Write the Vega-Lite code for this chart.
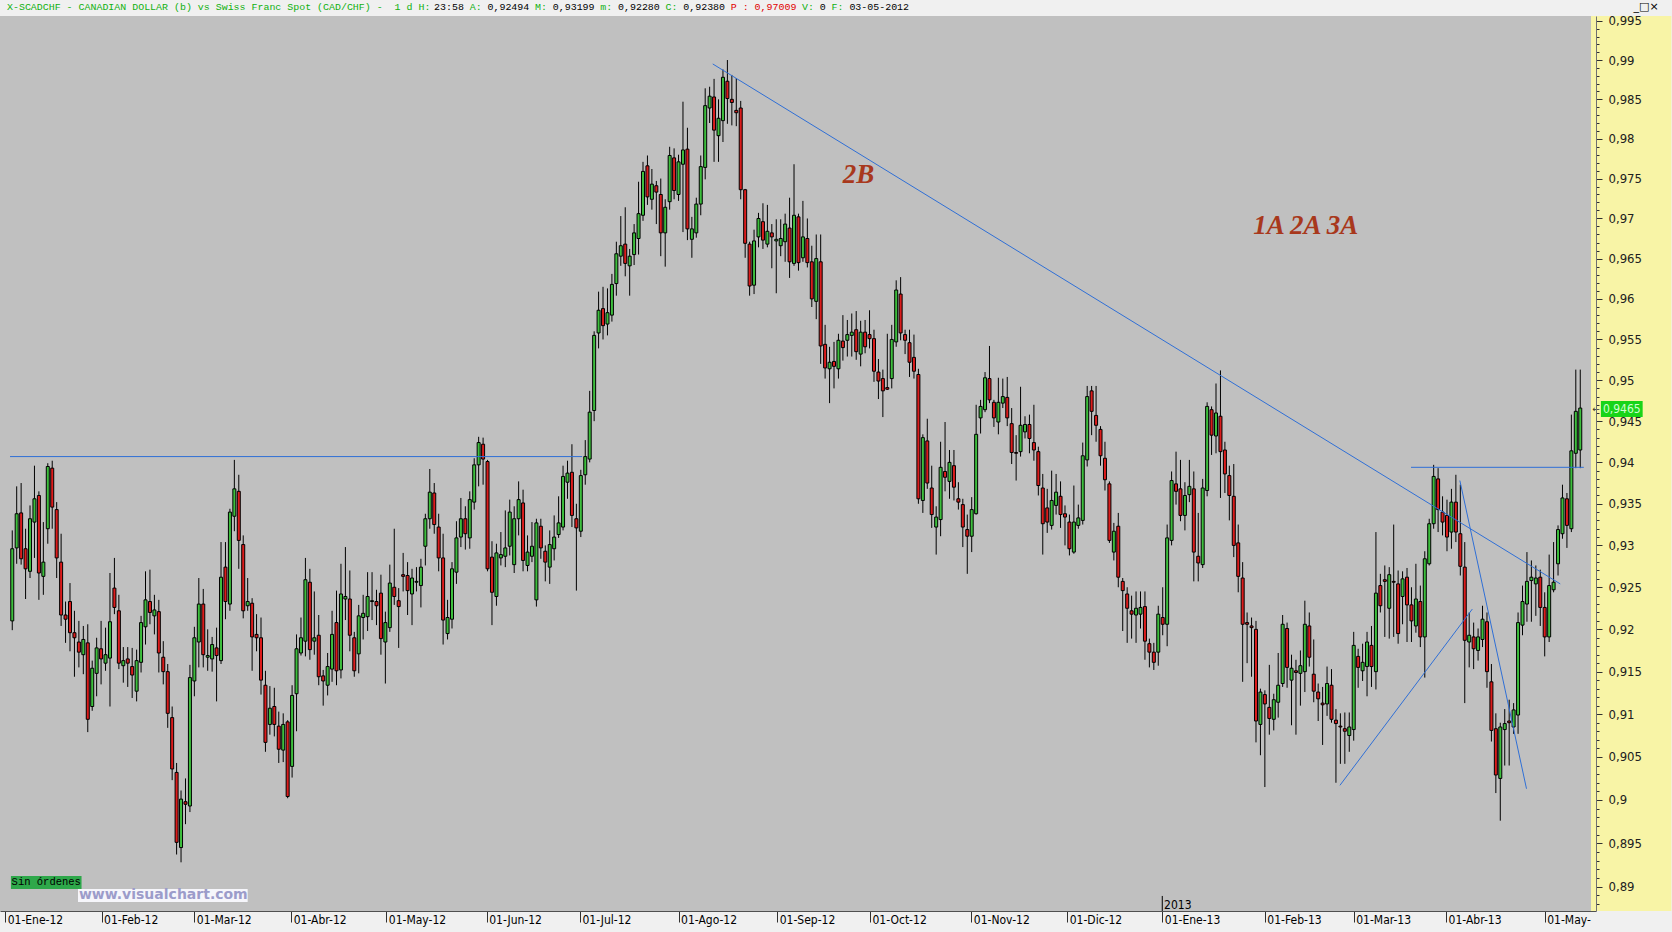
{
"$schema": "https://vega.github.io/schema/vega-lite/v6.json",
"width": 1596, "height": 895, "autosize": "none",
"padding": {"left": 0, "top": 16, "right": 76, "bottom": 21},
"background": "#f0f0f0",
"config": {"view": {"fill": "#c0c0c0", "stroke": null}, "axis": {"grid": false}},
"datasets": {
"ohlc": [
{"i":0,"o":0.9210,"h":0.9318,"l":0.9199,"c":0.9296},
{"i":1,"o":0.9297,"h":0.9371,"l":0.9278,"c":0.9338},
{"i":2,"o":0.9339,"h":0.9375,"l":0.9277,"c":0.9284},
{"i":3,"o":0.9296,"h":0.9320,"l":0.9236,"c":0.9272},
{"i":4,"o":0.9269,"h":0.9348,"l":0.9261,"c":0.9332},
{"i":5,"o":0.9328,"h":0.9396,"l":0.9285,"c":0.9356},
{"i":6,"o":0.9360,"h":0.9365,"l":0.9235,"c":0.9267},
{"i":7,"o":0.9263,"h":0.9328,"l":0.9241,"c":0.9280},
{"i":8,"o":0.9320,"h":0.9399,"l":0.9302,"c":0.9395},
{"i":9,"o":0.9393,"h":0.9402,"l":0.9320,"c":0.9346},
{"i":10,"o":0.9343,"h":0.9352,"l":0.9261,"c":0.9285},
{"i":11,"o":0.9280,"h":0.9314,"l":0.9204,"c":0.9217},
{"i":12,"o":0.9217,"h":0.9233,"l":0.9184,"c":0.9212},
{"i":13,"o":0.9233,"h":0.9255,"l":0.9174,"c":0.9196},
{"i":14,"o":0.9196,"h":0.9222,"l":0.9144,"c":0.9190},
{"i":15,"o":0.9185,"h":0.9210,"l":0.9155,"c":0.9173},
{"i":16,"o":0.9170,"h":0.9204,"l":0.9147,"c":0.9188},
{"i":17,"o":0.9184,"h":0.9206,"l":0.9079,"c":0.9094},
{"i":18,"o":0.9109,"h":0.9163,"l":0.9104,"c":0.9154},
{"i":19,"o":0.9148,"h":0.9190,"l":0.9121,"c":0.9178},
{"i":20,"o":0.9177,"h":0.9210,"l":0.9135,"c":0.9165},
{"i":21,"o":0.9160,"h":0.9202,"l":0.9151,"c":0.9170},
{"i":22,"o":0.9166,"h":0.9267,"l":0.9109,"c":0.9209},
{"i":23,"o":0.9249,"h":0.9285,"l":0.9218,"c":0.9226},
{"i":24,"o":0.9222,"h":0.9241,"l":0.9153,"c":0.9160},
{"i":25,"o":0.9157,"h":0.9179,"l":0.9137,"c":0.9163},
{"i":26,"o":0.9165,"h":0.9179,"l":0.9132,"c":0.9160},
{"i":27,"o":0.9156,"h":0.9178,"l":0.9119,"c":0.9146},
{"i":28,"o":0.9127,"h":0.9176,"l":0.9115,"c":0.9163},
{"i":29,"o":0.9161,"h":0.9216,"l":0.9149,"c":0.9208},
{"i":30,"o":0.9203,"h":0.9269,"l":0.9182,"c":0.9235},
{"i":31,"o":0.9233,"h":0.9271,"l":0.9206,"c":0.9220},
{"i":32,"o":0.9216,"h":0.9241,"l":0.9194,"c":0.9223},
{"i":33,"o":0.9221,"h":0.9235,"l":0.9149,"c":0.9172},
{"i":34,"o":0.9167,"h":0.9186,"l":0.9135,"c":0.9150},
{"i":35,"o":0.9150,"h":0.9159,"l":0.9084,"c":0.9101},
{"i":36,"o":0.9096,"h":0.9109,"l":0.9023,"c":0.9036},
{"i":37,"o":0.9032,"h":0.9043,"l":0.8937,"c":0.8951},
{"i":38,"o":0.8945,"h":0.9011,"l":0.8928,"c":0.9001},
{"i":39,"o":0.8998,"h":0.9025,"l":0.8972,"c":0.8995},
{"i":40,"o":0.8993,"h":0.9158,"l":0.8986,"c":0.9143},
{"i":41,"o":0.9139,"h":0.9203,"l":0.9121,"c":0.9190},
{"i":42,"o":0.9185,"h":0.9261,"l":0.9155,"c":0.9230},
{"i":43,"o":0.9230,"h":0.9248,"l":0.9155,"c":0.9170},
{"i":44,"o":0.9167,"h":0.9200,"l":0.9151,"c":0.9169},
{"i":45,"o":0.9165,"h":0.9191,"l":0.9150,"c":0.9182},
{"i":46,"o":0.9178,"h":0.9202,"l":0.9115,"c":0.9169},
{"i":47,"o":0.9163,"h":0.9304,"l":0.9159,"c":0.9262},
{"i":48,"o":0.9274,"h":0.9304,"l":0.9212,"c":0.9233},
{"i":49,"o":0.9230,"h":0.9344,"l":0.9222,"c":0.9340},
{"i":50,"o":0.9335,"h":0.9403,"l":0.9317,"c":0.9368},
{"i":51,"o":0.9365,"h":0.9385,"l":0.9272,"c":0.9306},
{"i":52,"o":0.9301,"h":0.9312,"l":0.9213,"c":0.9222},
{"i":53,"o":0.9228,"h":0.9261,"l":0.9222,"c":0.9233},
{"i":54,"o":0.9231,"h":0.9237,"l":0.9151,"c":0.9191},
{"i":55,"o":0.9194,"h":0.9218,"l":0.9174,"c":0.9190},
{"i":56,"o":0.9190,"h":0.9214,"l":0.9123,"c":0.9140},
{"i":57,"o":0.9134,"h":0.9151,"l":0.9056,"c":0.9067},
{"i":58,"o":0.9088,"h":0.9133,"l":0.9076,"c":0.9107},
{"i":59,"o":0.9109,"h":0.9131,"l":0.9074,"c":0.9088},
{"i":60,"o":0.9086,"h":0.9103,"l":0.9043,"c":0.9059},
{"i":61,"o":0.9058,"h":0.9101,"l":0.9044,"c":0.9088},
{"i":62,"o":0.9091,"h":0.9093,"l":0.9002,"c":0.9004},
{"i":63,"o":0.9039,"h":0.9134,"l":0.9026,"c":0.9122},
{"i":64,"o":0.9124,"h":0.9194,"l":0.9080,"c":0.9177},
{"i":65,"o":0.9172,"h":0.9214,"l":0.9169,"c":0.9190},
{"i":66,"o":0.9186,"h":0.9285,"l":0.9168,"c":0.9259},
{"i":67,"o":0.9256,"h":0.9272,"l":0.9164,"c":0.9176},
{"i":68,"o":0.9186,"h":0.9245,"l":0.9170,"c":0.9190},
{"i":69,"o":0.9193,"h":0.9217,"l":0.9134,"c":0.9144},
{"i":70,"o":0.9145,"h":0.9152,"l":0.9110,"c":0.9139},
{"i":71,"o":0.9134,"h":0.9172,"l":0.9122,"c":0.9156},
{"i":72,"o":0.9153,"h":0.9222,"l":0.9138,"c":0.9194},
{"i":73,"o":0.9208,"h":0.9246,"l":0.9134,"c":0.9151},
{"i":74,"o":0.9152,"h":0.9278,"l":0.9142,"c":0.9242},
{"i":75,"o":0.9236,"h":0.9298,"l":0.9211,"c":0.9239},
{"i":76,"o":0.9236,"h":0.9270,"l":0.9174,"c":0.9193},
{"i":77,"o":0.9190,"h":0.9197,"l":0.9144,"c":0.9151},
{"i":78,"o":0.9171,"h":0.9229,"l":0.9148,"c":0.9216},
{"i":79,"o":0.9214,"h":0.9241,"l":0.9188,"c":0.9219},
{"i":80,"o":0.9215,"h":0.9268,"l":0.9198,"c":0.9239},
{"i":81,"o":0.9233,"h":0.9268,"l":0.9211,"c":0.9234},
{"i":82,"o":0.9233,"h":0.9247,"l":0.9205,"c":0.9228},
{"i":83,"o":0.9243,"h":0.9265,"l":0.9170,"c":0.9189},
{"i":84,"o":0.9185,"h":0.9221,"l":0.9136,"c":0.9208},
{"i":85,"o":0.9202,"h":0.9277,"l":0.9197,"c":0.9255},
{"i":86,"o":0.9250,"h":0.9320,"l":0.9229,"c":0.9239},
{"i":87,"o":0.9234,"h":0.9249,"l":0.9178,"c":0.9227},
{"i":88,"o":0.9265,"h":0.9291,"l":0.9245,"c":0.9263},
{"i":89,"o":0.9264,"h":0.9280,"l":0.9217,"c":0.9246},
{"i":90,"o":0.9242,"h":0.9272,"l":0.9205,"c":0.9261},
{"i":91,"o":0.9256,"h":0.9274,"l":0.9245,"c":0.9257},
{"i":92,"o":0.9252,"h":0.9284,"l":0.9226,"c":0.9274},
{"i":93,"o":0.9299,"h":0.9338,"l":0.9276,"c":0.9332},
{"i":94,"o":0.9332,"h":0.9392,"l":0.9320,"c":0.9364},
{"i":95,"o":0.9363,"h":0.9375,"l":0.9314,"c":0.9325},
{"i":96,"o":0.9322,"h":0.9338,"l":0.9269,"c":0.9285},
{"i":97,"o":0.9285,"h":0.9314,"l":0.9182,"c":0.9211},
{"i":98,"o":0.9195,"h":0.9235,"l":0.9188,"c":0.9214},
{"i":99,"o":0.9212,"h":0.9280,"l":0.9201,"c":0.9272},
{"i":100,"o":0.9268,"h":0.9329,"l":0.9254,"c":0.9309},
{"i":101,"o":0.9310,"h":0.9357,"l":0.9298,"c":0.9332},
{"i":102,"o":0.9332,"h":0.9347,"l":0.9295,"c":0.9314},
{"i":103,"o":0.9309,"h":0.9365,"l":0.9296,"c":0.9355},
{"i":104,"o":0.9352,"h":0.9405,"l":0.9343,"c":0.9397},
{"i":105,"o":0.9397,"h":0.9431,"l":0.9371,"c":0.9424},
{"i":106,"o":0.9422,"h":0.9430,"l":0.9373,"c":0.9404},
{"i":107,"o":0.9401,"h":0.9403,"l":0.9269,"c":0.9272},
{"i":108,"o":0.9286,"h":0.9305,"l":0.9205,"c":0.9244},
{"i":109,"o":0.9239,"h":0.9302,"l":0.9228,"c":0.9291},
{"i":110,"o":0.9285,"h":0.9316,"l":0.9276,"c":0.9289},
{"i":111,"o":0.9287,"h":0.9342,"l":0.9274,"c":0.9297},
{"i":112,"o":0.9299,"h":0.9355,"l":0.9288,"c":0.9340},
{"i":113,"o":0.9277,"h":0.9347,"l":0.9267,"c":0.9332},
{"i":114,"o":0.9332,"h":0.9377,"l":0.9312,"c":0.9355},
{"i":115,"o":0.9351,"h":0.9367,"l":0.9269,"c":0.9282},
{"i":116,"o":0.9276,"h":0.9312,"l":0.9269,"c":0.9292},
{"i":117,"o":0.9287,"h":0.9328,"l":0.9280,"c":0.9299},
{"i":118,"o":0.9235,"h":0.9332,"l":0.9227,"c":0.9327},
{"i":119,"o":0.9323,"h":0.9332,"l":0.9284,"c":0.9297},
{"i":120,"o":0.9293,"h":0.9300,"l":0.9257,"c":0.9280},
{"i":121,"o":0.9274,"h":0.9318,"l":0.9254,"c":0.9301},
{"i":122,"o":0.9296,"h":0.9336,"l":0.9282,"c":0.9310},
{"i":123,"o":0.9313,"h":0.9359,"l":0.9309,"c":0.9327},
{"i":124,"o":0.9322,"h":0.9396,"l":0.9318,"c":0.9383},
{"i":125,"o":0.9376,"h":0.9402,"l":0.9356,"c":0.9387},
{"i":126,"o":0.9388,"h":0.9422,"l":0.9322,"c":0.9336},
{"i":127,"o":0.9332,"h":0.9350,"l":0.9246,"c":0.9321},
{"i":128,"o":0.9317,"h":0.9391,"l":0.9310,"c":0.9384},
{"i":129,"o":0.9385,"h":0.9427,"l":0.9373,"c":0.9407},
{"i":130,"o":0.9404,"h":0.9487,"l":0.9400,"c":0.9461},
{"i":131,"o":0.9463,"h":0.9560,"l":0.9450,"c":0.9555},
{"i":132,"o":0.9558,"h":0.9609,"l":0.9539,"c":0.9586},
{"i":133,"o":0.9588,"h":0.9615,"l":0.9550,"c":0.9567},
{"i":134,"o":0.9569,"h":0.9613,"l":0.9555,"c":0.9583},
{"i":135,"o":0.9580,"h":0.9631,"l":0.9572,"c":0.9618},
{"i":136,"o":0.9619,"h":0.9671,"l":0.9604,"c":0.9656},
{"i":137,"o":0.9653,"h":0.9703,"l":0.9641,"c":0.9666},
{"i":138,"o":0.9668,"h":0.9714,"l":0.9628,"c":0.9644},
{"i":139,"o":0.9641,"h":0.9662,"l":0.9604,"c":0.9653},
{"i":140,"o":0.9655,"h":0.9693,"l":0.9642,"c":0.9682},
{"i":141,"o":0.9675,"h":0.9746,"l":0.9655,"c":0.9706},
{"i":142,"o":0.9704,"h":0.9771,"l":0.9697,"c":0.9759},
{"i":143,"o":0.9766,"h":0.9779,"l":0.9717,"c":0.9727},
{"i":144,"o":0.9724,"h":0.9762,"l":0.9711,"c":0.9743},
{"i":145,"o":0.9741,"h":0.9747,"l":0.9693,"c":0.9733},
{"i":146,"o":0.9730,"h":0.9750,"l":0.9653,"c":0.9682},
{"i":147,"o":0.9682,"h":0.9724,"l":0.9640,"c":0.9714},
{"i":148,"o":0.9721,"h":0.9790,"l":0.9711,"c":0.9779},
{"i":149,"o":0.9776,"h":0.9788,"l":0.9724,"c":0.9735},
{"i":150,"o":0.9730,"h":0.9780,"l":0.9722,"c":0.9771},
{"i":151,"o":0.9768,"h":0.9847,"l":0.9683,"c":0.9786},
{"i":152,"o":0.9787,"h":0.9814,"l":0.9673,"c":0.9687},
{"i":153,"o":0.9674,"h":0.9702,"l":0.9651,"c":0.9687},
{"i":154,"o":0.9682,"h":0.9726,"l":0.9676,"c":0.9718},
{"i":155,"o":0.9718,"h":0.9779,"l":0.9704,"c":0.9765},
{"i":156,"o":0.9764,"h":0.9864,"l":0.9749,"c":0.9842},
{"i":157,"o":0.9839,"h":0.9866,"l":0.9820,"c":0.9854},
{"i":158,"o":0.9853,"h":0.9876,"l":0.9771,"c":0.9811},
{"i":159,"o":0.9804,"h":0.9850,"l":0.9771,"c":0.9826},
{"i":160,"o":0.9823,"h":0.9888,"l":0.9796,"c":0.9878},
{"i":161,"o":0.9873,"h":0.9900,"l":0.9819,"c":0.9851},
{"i":162,"o":0.9850,"h":0.9881,"l":0.9817,"c":0.9846},
{"i":163,"o":0.9836,"h":0.9877,"l":0.9816,"c":0.9833},
{"i":164,"o":0.9839,"h":0.9848,"l":0.9724,"c":0.9736},
{"i":165,"o":0.9736,"h":0.9737,"l":0.9651,"c":0.9669},
{"i":166,"o":0.9668,"h":0.9671,"l":0.9604,"c":0.9616},
{"i":167,"o":0.9617,"h":0.9686,"l":0.9606,"c":0.9672},
{"i":168,"o":0.9677,"h":0.9707,"l":0.9664,"c":0.9700},
{"i":169,"o":0.9696,"h":0.9719,"l":0.9662,"c":0.9673},
{"i":170,"o":0.9668,"h":0.9717,"l":0.9664,"c":0.9684},
{"i":171,"o":0.9682,"h":0.9693,"l":0.9638,"c":0.9677},
{"i":172,"o":0.9672,"h":0.9699,"l":0.9607,"c":0.9674},
{"i":173,"o":0.9666,"h":0.9699,"l":0.9653,"c":0.9675},
{"i":174,"o":0.9671,"h":0.9706,"l":0.9646,"c":0.9693},
{"i":175,"o":0.9688,"h":0.9726,"l":0.9626,"c":0.9646},
{"i":176,"o":0.9644,"h":0.9768,"l":0.9641,"c":0.9704},
{"i":177,"o":0.9702,"h":0.9706,"l":0.9635,"c":0.9645},
{"i":178,"o":0.9651,"h":0.9722,"l":0.9646,"c":0.9677},
{"i":179,"o":0.9675,"h":0.9700,"l":0.9639,"c":0.9645},
{"i":180,"o":0.9646,"h":0.9666,"l":0.9590,"c":0.9600},
{"i":181,"o":0.9597,"h":0.9680,"l":0.9575,"c":0.9650},
{"i":182,"o":0.9646,"h":0.9680,"l":0.9520,"c":0.9542},
{"i":183,"o":0.9544,"h":0.9568,"l":0.9502,"c":0.9515},
{"i":184,"o":0.9514,"h":0.9541,"l":0.9472,"c":0.9522},
{"i":185,"o":0.9523,"h":0.9547,"l":0.9490,"c":0.9517},
{"i":186,"o":0.9514,"h":0.9557,"l":0.9502,"c":0.9549},
{"i":187,"o":0.9548,"h":0.9580,"l":0.9524,"c":0.9540},
{"i":188,"o":0.9549,"h":0.9574,"l":0.9529,"c":0.9556},
{"i":189,"o":0.9555,"h":0.9582,"l":0.9529,"c":0.9559},
{"i":190,"o":0.9562,"h":0.9585,"l":0.9525,"c":0.9535},
{"i":191,"o":0.9532,"h":0.9573,"l":0.9517,"c":0.9559},
{"i":192,"o":0.9559,"h":0.9574,"l":0.9533,"c":0.9541},
{"i":193,"o":0.9556,"h":0.9586,"l":0.9539,"c":0.9551},
{"i":194,"o":0.9551,"h":0.9562,"l":0.9498,"c":0.9511},
{"i":195,"o":0.9510,"h":0.9526,"l":0.9477,"c":0.9499},
{"i":196,"o":0.9502,"h":0.9513,"l":0.9455,"c":0.9487},
{"i":197,"o":0.9491,"h":0.9557,"l":0.9488,"c":0.9489},
{"i":198,"o":0.9502,"h":0.9568,"l":0.9490,"c":0.9550},
{"i":199,"o":0.9547,"h":0.9623,"l":0.9541,"c":0.9611},
{"i":200,"o":0.9606,"h":0.9627,"l":0.9549,"c":0.9558},
{"i":201,"o":0.9556,"h":0.9562,"l":0.9532,"c":0.9549},
{"i":202,"o":0.9546,"h":0.9562,"l":0.9504,"c":0.9522},
{"i":203,"o":0.9528,"h":0.9556,"l":0.9502,"c":0.9511},
{"i":204,"o":0.9507,"h":0.9514,"l":0.9350,"c":0.9356},
{"i":205,"o":0.9354,"h":0.9434,"l":0.9339,"c":0.9430},
{"i":206,"o":0.9426,"h":0.9453,"l":0.9368,"c":0.9375},
{"i":207,"o":0.9369,"h":0.9396,"l":0.9321,"c":0.9337},
{"i":208,"o":0.9322,"h":0.9347,"l":0.9289,"c":0.9334},
{"i":209,"o":0.9331,"h":0.9425,"l":0.9311,"c":0.9394},
{"i":210,"o":0.9389,"h":0.9449,"l":0.9365,"c":0.9382},
{"i":211,"o":0.9377,"h":0.9415,"l":0.9356,"c":0.9400},
{"i":212,"o":0.9396,"h":0.9415,"l":0.9354,"c":0.9370},
{"i":213,"o":0.9356,"h":0.9376,"l":0.9343,"c":0.9352},
{"i":214,"o":0.9349,"h":0.9356,"l":0.9298,"c":0.9322},
{"i":215,"o":0.9319,"h":0.9337,"l":0.9266,"c":0.9311},
{"i":216,"o":0.9311,"h":0.9358,"l":0.9292,"c":0.9343},
{"i":217,"o":0.9338,"h":0.9470,"l":0.9337,"c":0.9434},
{"i":218,"o":0.9454,"h":0.9476,"l":0.9435,"c":0.9468},
{"i":219,"o":0.9464,"h":0.9510,"l":0.9461,"c":0.9503},
{"i":220,"o":0.9502,"h":0.9542,"l":0.9472,"c":0.9476},
{"i":221,"o":0.9473,"h":0.9476,"l":0.9443,"c":0.9454},
{"i":222,"o":0.9449,"h":0.9503,"l":0.9434,"c":0.9473},
{"i":223,"o":0.9472,"h":0.9502,"l":0.9466,"c":0.9480},
{"i":224,"o":0.9479,"h":0.9504,"l":0.9444,"c":0.9454},
{"i":225,"o":0.9447,"h":0.9466,"l":0.9398,"c":0.9412},
{"i":226,"o":0.9412,"h":0.9433,"l":0.9378,"c":0.9411},
{"i":227,"o":0.9413,"h":0.9492,"l":0.9407,"c":0.9445},
{"i":228,"o":0.9437,"h":0.9456,"l":0.9429,"c":0.9446},
{"i":229,"o":0.9446,"h":0.9458,"l":0.9411,"c":0.9429},
{"i":230,"o":0.9424,"h":0.9470,"l":0.9402,"c":0.9415},
{"i":231,"o":0.9413,"h":0.9419,"l":0.9360,"c":0.9372},
{"i":232,"o":0.9369,"h":0.9386,"l":0.9289,"c":0.9326},
{"i":233,"o":0.9345,"h":0.9368,"l":0.9315,"c":0.9328},
{"i":234,"o":0.9324,"h":0.9390,"l":0.9319,"c":0.9354},
{"i":235,"o":0.9348,"h":0.9386,"l":0.9337,"c":0.9364},
{"i":236,"o":0.9359,"h":0.9377,"l":0.9321,"c":0.9337},
{"i":237,"o":0.9338,"h":0.9348,"l":0.9300,"c":0.9334},
{"i":238,"o":0.9328,"h":0.9337,"l":0.9288,"c":0.9296},
{"i":239,"o":0.9292,"h":0.9372,"l":0.9290,"c":0.9328},
{"i":240,"o":0.9324,"h":0.9349,"l":0.9320,"c":0.9333},
{"i":241,"o":0.9330,"h":0.9424,"l":0.9325,"c":0.9408},
{"i":242,"o":0.9403,"h":0.9493,"l":0.9395,"c":0.9480},
{"i":243,"o":0.9487,"h":0.9493,"l":0.9433,"c":0.9462},
{"i":244,"o":0.9457,"h":0.9493,"l":0.9425,"c":0.9445},
{"i":245,"o":0.9440,"h":0.9444,"l":0.9396,"c":0.9408},
{"i":246,"o":0.9405,"h":0.9425,"l":0.9366,"c":0.9379},
{"i":247,"o":0.9374,"h":0.9377,"l":0.9303,"c":0.9306},
{"i":248,"o":0.9292,"h":0.9327,"l":0.9282,"c":0.9317},
{"i":249,"o":0.9323,"h":0.9339,"l":0.9250,"c":0.9262},
{"i":250,"o":0.9257,"h":0.9261,"l":0.9198,"c":0.9246},
{"i":251,"o":0.9242,"h":0.9250,"l":0.9184,"c":0.9225},
{"i":252,"o":0.9222,"h":0.9240,"l":0.9189,"c":0.9218},
{"i":253,"o":0.9217,"h":0.9245,"l":0.9184,"c":0.9225},
{"i":254,"o":0.9218,"h":0.9245,"l":0.9201,"c":0.9226},
{"i":255,"o":0.9227,"h":0.9245,"l":0.9164,"c":0.9186},
{"i":256,"o":0.9183,"h":0.9189,"l":0.9155,"c":0.9173},
{"i":257,"o":0.9173,"h":0.9184,"l":0.9152,"c":0.9161},
{"i":258,"o":0.9173,"h":0.9228,"l":0.9157,"c":0.9218},
{"i":259,"o":0.9214,"h":0.9250,"l":0.9193,"c":0.9206},
{"i":260,"o":0.9206,"h":0.9325,"l":0.9180,"c":0.9309},
{"i":261,"o":0.9306,"h":0.9389,"l":0.9300,"c":0.9378},
{"i":262,"o":0.9374,"h":0.9413,"l":0.9349,"c":0.9365},
{"i":263,"o":0.9368,"h":0.9403,"l":0.9329,"c":0.9336},
{"i":264,"o":0.9336,"h":0.9376,"l":0.9318,"c":0.9360},
{"i":265,"o":0.9361,"h":0.9403,"l":0.9352,"c":0.9371},
{"i":266,"o":0.9368,"h":0.9389,"l":0.9257,"c":0.9292},
{"i":267,"o":0.9287,"h":0.9339,"l":0.9257,"c":0.9279},
{"i":268,"o":0.9277,"h":0.9380,"l":0.9273,"c":0.9369},
{"i":269,"o":0.9366,"h":0.9473,"l":0.9359,"c":0.9468},
{"i":270,"o":0.9464,"h":0.9468,"l":0.9409,"c":0.9433},
{"i":271,"o":0.9432,"h":0.9496,"l":0.9411,"c":0.9460},
{"i":272,"o":0.9456,"h":0.9512,"l":0.9357,"c":0.9413},
{"i":273,"o":0.9415,"h":0.9425,"l":0.9363,"c":0.9386},
{"i":274,"o":0.9384,"h":0.9396,"l":0.9330,"c":0.9360},
{"i":275,"o":0.9359,"h":0.9398,"l":0.9286,"c":0.9300},
{"i":276,"o":0.9303,"h":0.9325,"l":0.9244,"c":0.9263},
{"i":277,"o":0.9261,"h":0.9280,"l":0.9138,"c":0.9206},
{"i":278,"o":0.9208,"h":0.9220,"l":0.9160,"c":0.9206},
{"i":279,"o":0.9204,"h":0.9214,"l":0.9144,"c":0.9202},
{"i":280,"o":0.9200,"h":0.9210,"l":0.9067,"c":0.9092},
{"i":281,"o":0.9088,"h":0.9130,"l":0.9052,"c":0.9126},
{"i":282,"o":0.9123,"h":0.9128,"l":0.9015,"c":0.9112},
{"i":283,"o":0.9108,"h":0.9158,"l":0.9076,"c":0.9095},
{"i":284,"o":0.9094,"h":0.9124,"l":0.9081,"c":0.9117},
{"i":285,"o":0.9114,"h":0.9172,"l":0.9096,"c":0.9134},
{"i":286,"o":0.9136,"h":0.9217,"l":0.9132,"c":0.9206},
{"i":287,"o":0.9201,"h":0.9208,"l":0.9131,"c":0.9155},
{"i":288,"o":0.9140,"h":0.9170,"l":0.9087,"c":0.9154},
{"i":289,"o":0.9151,"h":0.9164,"l":0.9076,"c":0.9149},
{"i":290,"o":0.9148,"h":0.9175,"l":0.9110,"c":0.9157},
{"i":291,"o":0.9150,"h":0.9234,"l":0.9126,"c":0.9206},
{"i":292,"o":0.9204,"h":0.9220,"l":0.9156,"c":0.9167},
{"i":293,"o":0.9147,"h":0.9188,"l":0.9114,"c":0.9127},
{"i":294,"o":0.9126,"h":0.9136,"l":0.9092,"c":0.9118},
{"i":295,"o":0.9113,"h":0.9132,"l":0.9064,"c":0.9111},
{"i":296,"o":0.9112,"h":0.9156,"l":0.9098,"c":0.9136},
{"i":297,"o":0.9134,"h":0.9153,"l":0.9090,"c":0.9094},
{"i":298,"o":0.9093,"h":0.9106,"l":0.9020,"c":0.9089},
{"i":299,"o":0.9086,"h":0.9101,"l":0.9042,"c":0.9085},
{"i":300,"o":0.9083,"h":0.9102,"l":0.9042,"c":0.9080},
{"i":301,"o":0.9075,"h":0.9102,"l":0.9056,"c":0.9085},
{"i":302,"o":0.9082,"h":0.9197,"l":0.9069,"c":0.9181},
{"i":303,"o":0.9168,"h":0.9177,"l":0.9131,"c":0.9155},
{"i":304,"o":0.9151,"h":0.9183,"l":0.9139,"c":0.9161},
{"i":305,"o":0.9156,"h":0.9197,"l":0.9121,"c":0.9185},
{"i":306,"o":0.9181,"h":0.9204,"l":0.9132,"c":0.9156},
{"i":307,"o":0.9150,"h":0.9316,"l":0.9129,"c":0.9243},
{"i":308,"o":0.9252,"h":0.9266,"l":0.9220,"c":0.9228},
{"i":309,"o":0.9259,"h":0.9276,"l":0.9191,"c":0.9257},
{"i":310,"o":0.9225,"h":0.9274,"l":0.9189,"c":0.9265},
{"i":311,"o":0.9257,"h":0.9325,"l":0.9191,"c":0.9256},
{"i":312,"o":0.9254,"h":0.9270,"l":0.9183,"c":0.9195},
{"i":313,"o":0.9239,"h":0.9269,"l":0.9206,"c":0.9260},
{"i":314,"o":0.9262,"h":0.9273,"l":0.9185,"c":0.9229},
{"i":315,"o":0.9229,"h":0.9250,"l":0.9185,"c":0.9210},
{"i":316,"o":0.9204,"h":0.9278,"l":0.9196,"c":0.9236},
{"i":317,"o":0.9233,"h":0.9252,"l":0.9179,"c":0.9191},
{"i":318,"o":0.9191,"h":0.9293,"l":0.9143,"c":0.9284},
{"i":319,"o":0.9278,"h":0.9332,"l":0.9276,"c":0.9326},
{"i":320,"o":0.9326,"h":0.9397,"l":0.9320,"c":0.9383},
{"i":321,"o":0.9380,"h":0.9393,"l":0.9316,"c":0.9343},
{"i":322,"o":0.9340,"h":0.9359,"l":0.9312,"c":0.9328},
{"i":323,"o":0.9336,"h":0.9355,"l":0.9293,"c":0.9310},
{"i":324,"o":0.9316,"h":0.9368,"l":0.9296,"c":0.9352},
{"i":325,"o":0.9352,"h":0.9385,"l":0.9304,"c":0.9316},
{"i":326,"o":0.9314,"h":0.9373,"l":0.9264,"c":0.9275},
{"i":327,"o":0.9274,"h":0.9304,"l":0.9113,"c":0.9187},
{"i":328,"o":0.9185,"h":0.9220,"l":0.9155,"c":0.9193},
{"i":329,"o":0.9191,"h":0.9208,"l":0.9153,"c":0.9177},
{"i":330,"o":0.9175,"h":0.9201,"l":0.9163,"c":0.9191},
{"i":331,"o":0.9188,"h":0.9228,"l":0.9179,"c":0.9212},
{"i":332,"o":0.9209,"h":0.9220,"l":0.9131,"c":0.9150},
{"i":333,"o":0.9138,"h":0.9159,"l":0.9068,"c":0.9081},
{"i":334,"o":0.9083,"h":0.9101,"l":0.9008,"c":0.9029},
{"i":335,"o":0.9025,"h":0.9090,"l":0.8976,"c":0.9085},
{"i":336,"o":0.9082,"h":0.9106,"l":0.9040,"c":0.9089},
{"i":337,"o":0.9092,"h":0.9117,"l":0.9040,"c":0.9090},
{"i":338,"o":0.9085,"h":0.9113,"l":0.9077,"c":0.9105},
{"i":339,"o":0.9099,"h":0.9220,"l":0.9077,"c":0.9208},
{"i":340,"o":0.9205,"h":0.9252,"l":0.9193,"c":0.9233},
{"i":341,"o":0.9230,"h":0.9292,"l":0.9209,"c":0.9257},
{"i":342,"o":0.9258,"h":0.9282,"l":0.9209,"c":0.9262},
{"i":343,"o":0.9254,"h":0.9276,"l":0.9216,"c":0.9261},
{"i":344,"o":0.9262,"h":0.9271,"l":0.9204,"c":0.9226},
{"i":345,"o":0.9226,"h":0.9244,"l":0.9168,"c":0.9191},
{"i":346,"o":0.9191,"h":0.9289,"l":0.9185,"c":0.9252},
{"i":347,"o":0.9247,"h":0.9304,"l":0.9244,"c":0.9256},
{"i":348,"o":0.9278,"h":0.9324,"l":0.9264,"c":0.9319},
{"i":349,"o":0.9314,"h":0.9373,"l":0.9308,"c":0.9357},
{"i":350,"o":0.9356,"h":0.9363,"l":0.9297,"c":0.9324},
{"i":351,"o":0.9320,"h":0.9458,"l":0.9316,"c":0.9414},
{"i":352,"o":0.9411,"h":0.9513,"l":0.9393,"c":0.9462},
{"i":353,"o":0.9415,"h":0.9513,"l":0.9393,"c":0.9466}
],
"lines": [
{"a":-0.5,"pa":0.9407,"b":128.3,"pb":0.9407},
{"a":157.7,"pa":0.9895,"b":348.5,"pb":0.9254},
{"a":314.9,"pa":0.9394,"b":353.8,"pb":0.9394},
{"a":298.9,"pa":0.9017,"b":328.7,"pb":0.9224},
{"a":325.9,"pa":0.9378,"b":340.9,"pb":0.9013}
]
},
"layer": [
{
"data": {"values": [{}]},
"mark": {"type": "rect", "fill": "#f8f4a6"},
"encoding": {
"x": {"datum": 355.42, "type": "quantitative"},
"x2": {"datum": 373.5},
"y": {"datum": 0.88722, "type": "quantitative"},
"y2": {"datum": 0.99563}
}
},
{
"data": {"name": "ohlc"},
"mark": {"type": "rule", "color": "#000000", "strokeWidth": 1},
"encoding": {
"x": {"field": "i", "type": "quantitative",
"scale": {"domain": [-1.633, 355.42], "nice": false, "zero": false},
"axis": {"orient": "bottom", "title": null, "zindex": 1,
"values": [-1.6, 20.1, 41, 62.8, 84.2, 106.8, 127.8, 150, 172.2, 193.1, 215.9, 237.5, 258.9, 282, 302, 322.8, 345],
"labelExpr": "['01-Ene-12','01-Feb-12','01-Mar-12','01-Abr-12','01-May-12','01-Jun-12','01-Jul-12','01-Ago-12','01-Sep-12','01-Oct-12','01-Nov-12','01-Dic-12','01-Ene-13','01-Feb-13','01-Mar-13','01-Abr-13','01-May-'][indexof([-1.6, 20.1, 41, 62.8, 84.2, 106.8, 127.8, 150, 172.2, 193.1, 215.9, 237.5, 258.9, 282, 302, 322.8, 345], datum.value)]",
"domainColor": "#505050", "tickColor": "#303030", "tickSize": 11,
"labelPadding": -8, "labelAlign": "left", "labelBaseline": "top", "labelOffset": 2,
"labelFont": "Liberation Sans Narrow, DejaVu Sans Condensed, Liberation Sans, sans-serif",
"labelFontSize": 12, "labelColor": "#000000",
"labelFlush": false, "labelOverlap": false, "labelBound": false}},
"y": {"field": "l", "type": "quantitative",
"scale": {"type": "log", "domain": [0.88722, 0.99563], "nice": false},
"axis": {"orient": "right", "title": null, "zindex": 1,
"values": [0.888,0.889,0.89,0.891,0.892,0.893,0.894,0.895,0.896,0.897,0.898,0.899,0.9,0.901,0.902,0.903,0.904,0.905,0.906,0.907,0.908,0.909,0.91,0.911,0.912,0.913,0.914,0.915,0.916,0.917,0.918,0.919,0.92,0.921,0.922,0.923,0.924,0.925,0.926,0.927,0.928,0.929,0.93,0.931,0.932,0.933,0.934,0.935,0.936,0.937,0.938,0.939,0.94,0.941,0.942,0.943,0.944,0.945,0.946,0.947,0.948,0.949,0.95,0.951,0.952,0.953,0.954,0.955,0.956,0.957,0.958,0.959,0.96,0.961,0.962,0.963,0.964,0.965,0.966,0.967,0.968,0.969,0.97,0.971,0.972,0.973,0.974,0.975,0.976,0.977,0.978,0.979,0.98,0.981,0.982,0.983,0.984,0.985,0.986,0.987,0.988,0.989,0.99,0.991,0.992,0.993,0.994,0.995],
"labelExpr": "round(datum.value*1000) % 5 == 0 ? replace(format(datum.value, '.3~f'), '.', ',') : ''",
"tickSize": {"condition": {"test": "round(datum.value*1000) % 5 == 0", "value": 6}, "value": 3},
"labelPadding": 6,
"domainColor": "#707070", "tickColor": "#303030",
"labelFont": "Liberation Sans Narrow, DejaVu Sans Condensed, Liberation Sans, sans-serif",
"labelFontSize": 13, "labelColor": "#202020",
"labelOverlap": false, "labelFlush": false, "labelBound": false}},
"y2": {"field": "h"}
}
},
{
"data": {"name": "ohlc"},
"mark": {"type": "bar", "width": 3, "stroke": "#000000", "strokeWidth": 1},
"encoding": {
"x": {"field": "i", "type": "quantitative"},
"y": {"field": "o", "type": "quantitative"},
"y2": {"field": "c"},
"fill": {"condition": {"test": "datum.c >= datum.o", "value": "#3dbf3d"}, "value": "#dc1c1c"}
}
},
{
"data": {"name": "lines"},
"mark": {"type": "rule", "color": "#2f6fd6", "strokeWidth": 1},
"encoding": {
"x": {"field": "a", "type": "quantitative"},
"y": {"field": "pa", "type": "quantitative"},
"x2": {"field": "b"},
"y2": {"field": "pb"}
}
},
{
"data": {"values": [{}]},
"mark": {"type": "text", "text": "2B", "font": "Liberation Serif", "fontWeight": "bold", "fontStyle": "italic", "fontSize": 27, "color": "#a8381c", "align": "left", "baseline": "alphabetic"},
"encoding": {"x": {"datum": 186.96, "type": "quantitative"}, "y": {"datum": 0.97444, "type": "quantitative"}}
},
{
"data": {"values": [{}]},
"mark": {"type": "text", "text": "1A 2A 3A", "font": "Liberation Serif", "fontWeight": "bold", "fontStyle": "italic", "fontSize": 27, "color": "#a8381c", "align": "left", "baseline": "alphabetic"},
"encoding": {"x": {"datum": 279.4, "type": "quantitative"}, "y": {"datum": 0.96800, "type": "quantitative"}}
},
{"data": {"values": [{}]}, "mark": {"type": "text", "text": "X-SCADCHF - CANADIAN DOLLAR (b) vs Swiss Franc Spot (CAD/CHF) -\u00a0\u00a01 d H:", "font": "Liberation Mono", "fontSize": 9.95, "color": "#10b010", "align": "left", "baseline": "middle"}, "encoding": {"x": {"datum": -1.186, "type": "quantitative"}, "y": {"datum": 0.99678, "type": "quantitative"}}},
{"data": {"values": [{}]}, "mark": {"type": "text", "text": "23:58", "font": "Liberation Mono", "fontSize": 9.95, "color": "#000000", "align": "left", "baseline": "middle"}, "encoding": {"x": {"datum": 94.975, "type": "quantitative"}, "y": {"datum": 0.99678, "type": "quantitative"}}},
{"data": {"values": [{}]}, "mark": {"type": "text", "text": "A:", "font": "Liberation Mono", "fontSize": 9.95, "color": "#10b010", "align": "left", "baseline": "middle"}, "encoding": {"x": {"datum": 102.989, "type": "quantitative"}, "y": {"datum": 0.99678, "type": "quantitative"}}},
{"data": {"values": [{}]}, "mark": {"type": "text", "text": "0,92494", "font": "Liberation Mono", "fontSize": 9.95, "color": "#000000", "align": "left", "baseline": "middle"}, "encoding": {"x": {"datum": 106.995, "type": "quantitative"}, "y": {"datum": 0.99678, "type": "quantitative"}}},
{"data": {"values": [{}]}, "mark": {"type": "text", "text": "M:", "font": "Liberation Mono", "fontSize": 9.95, "color": "#10b010", "align": "left", "baseline": "middle"}, "encoding": {"x": {"datum": 117.68, "type": "quantitative"}, "y": {"datum": 0.99678, "type": "quantitative"}}},
{"data": {"values": [{}]}, "mark": {"type": "text", "text": "0,93199", "font": "Liberation Mono", "fontSize": 9.95, "color": "#000000", "align": "left", "baseline": "middle"}, "encoding": {"x": {"datum": 121.687, "type": "quantitative"}, "y": {"datum": 0.99678, "type": "quantitative"}}},
{"data": {"values": [{}]}, "mark": {"type": "text", "text": "m:", "font": "Liberation Mono", "fontSize": 9.95, "color": "#10b010", "align": "left", "baseline": "middle"}, "encoding": {"x": {"datum": 132.371, "type": "quantitative"}, "y": {"datum": 0.99678, "type": "quantitative"}}},
{"data": {"values": [{}]}, "mark": {"type": "text", "text": "0,92280", "font": "Liberation Mono", "fontSize": 9.95, "color": "#000000", "align": "left", "baseline": "middle"}, "encoding": {"x": {"datum": 136.378, "type": "quantitative"}, "y": {"datum": 0.99678, "type": "quantitative"}}},
{"data": {"values": [{}]}, "mark": {"type": "text", "text": "C:", "font": "Liberation Mono", "fontSize": 9.95, "color": "#10b010", "align": "left", "baseline": "middle"}, "encoding": {"x": {"datum": 147.062, "type": "quantitative"}, "y": {"datum": 0.99678, "type": "quantitative"}}},
{"data": {"values": [{}]}, "mark": {"type": "text", "text": "0,92380", "font": "Liberation Mono", "fontSize": 9.95, "color": "#000000", "align": "left", "baseline": "middle"}, "encoding": {"x": {"datum": 151.069, "type": "quantitative"}, "y": {"datum": 0.99678, "type": "quantitative"}}},
{"data": {"values": [{}]}, "mark": {"type": "text", "text": "P : 0,97009", "font": "Liberation Mono", "fontSize": 9.95, "color": "#e00000", "align": "left", "baseline": "middle"}, "encoding": {"x": {"datum": 161.754, "type": "quantitative"}, "y": {"datum": 0.99678, "type": "quantitative"}}},
{"data": {"values": [{}]}, "mark": {"type": "text", "text": "V:", "font": "Liberation Mono", "fontSize": 9.95, "color": "#10b010", "align": "left", "baseline": "middle"}, "encoding": {"x": {"datum": 177.78, "type": "quantitative"}, "y": {"datum": 0.99678, "type": "quantitative"}}},
{"data": {"values": [{}]}, "mark": {"type": "text", "text": "0", "font": "Liberation Mono", "fontSize": 9.95, "color": "#000000", "align": "left", "baseline": "middle"}, "encoding": {"x": {"datum": 181.787, "type": "quantitative"}, "y": {"datum": 0.99678, "type": "quantitative"}}},
{"data": {"values": [{}]}, "mark": {"type": "text", "text": "F:", "font": "Liberation Mono", "fontSize": 9.95, "color": "#10b010", "align": "left", "baseline": "middle"}, "encoding": {"x": {"datum": 184.458, "type": "quantitative"}, "y": {"datum": 0.99678, "type": "quantitative"}}},
{"data": {"values": [{}]}, "mark": {"type": "text", "text": "03-05-2012", "font": "Liberation Mono", "fontSize": 9.95, "color": "#000000", "align": "left", "baseline": "middle"}, "encoding": {"x": {"datum": 188.465, "type": "quantitative"}, "y": {"datum": 0.99678, "type": "quantitative"}}},
{
"data": {"values": [{}]},
"mark": {"type": "text", "text": "_□×", "font": "DejaVu Sans", "fontSize": 11, "color": "#000000", "align": "left", "baseline": "middle"},
"encoding": {"x": {"datum": 365.0, "type": "quantitative"}, "y": {"datum": 0.99678, "type": "quantitative"}}
},
{
"data": {"values": [{}]},
"mark": {"type": "rect", "fill": "#2ea84a"},
"encoding": {"x": {"datum": -0.3, "type": "quantitative"}, "x2": {"datum": 15.6}, "y": {"datum": 0.88974, "type": "quantitative"}, "y2": {"datum": 0.89123}}
},
{
"data": {"values": [{}]},
"mark": {"type": "text", "text": "Sin órdenes", "font": "Liberation Mono", "fontSize": 10.5, "color": "#000000", "align": "center", "baseline": "middle"},
"encoding": {"x": {"datum": 7.65, "type": "quantitative"}, "y": {"datum": 0.8905, "type": "quantitative"}}
},
{
"data": {"values": [{}]},
"mark": {"type": "rect", "fill": "#f6f6fb"},
"encoding": {"x": {"datum": 14.8, "type": "quantitative"}, "x2": {"datum": 53.0}, "y": {"datum": 0.88825, "type": "quantitative"}, "y2": {"datum": 0.88975}}
},
{
"data": {"values": [{}]},
"mark": {"type": "text", "text": "www.visualchart.com", "font": "DejaVu Sans", "fontWeight": "bold", "fontSize": 14, "color": "#9c9cca", "align": "left", "baseline": "middle"},
"encoding": {"x": {"datum": 15.0, "type": "quantitative"}, "y": {"datum": 0.88906, "type": "quantitative"}}
},
{
"data": {"values": [{}]},
"mark": {"type": "rule", "color": "#000000", "strokeWidth": 1},
"encoding": {"x": {"datum": 258.9, "type": "quantitative"}, "y": {"datum": 0.88722, "type": "quantitative"}, "y2": {"datum": 0.88894}}
},
{
"data": {"values": [{}]},
"mark": {"type": "text", "text": "2013", "font": "Liberation Sans Narrow, DejaVu Sans Condensed, Liberation Sans, sans-serif", "fontSize": 12, "color": "#000000", "align": "left", "baseline": "alphabetic"},
"encoding": {"x": {"datum": 259.3, "type": "quantitative"}, "y": {"datum": 0.88745, "type": "quantitative"}}
},
{
"data": {"values": [{}]},
"mark": {"type": "rect", "fill": "#18d418"},
"encoding": {"x": {"datum": 357.65, "type": "quantitative"}, "x2": {"datum": 367.05}, "y": {"datum": 0.94551, "type": "quantitative"}, "y2": {"datum": 0.94746}}
},
{
"data": {"values": [{}]},
"mark": {"type": "text", "text": "0,9465", "font": "Liberation Sans Narrow, DejaVu Sans Condensed, Liberation Sans, sans-serif", "fontSize": 12, "color": "#d0ffd0", "align": "center", "baseline": "middle"},
"encoding": {"x": {"datum": 362.35, "type": "quantitative"}, "y": {"datum": 0.9465, "type": "quantitative"}}
},
{
"data": {"values": [{}]},
"mark": {"type": "text", "text": "←", "font": "DejaVu Sans", "fontSize": 9, "color": "#303030", "align": "left", "baseline": "middle"},
"encoding": {"x": {"datum": 355.7, "type": "quantitative"}, "y": {"datum": 0.9465, "type": "quantitative"}}
}
]
}
